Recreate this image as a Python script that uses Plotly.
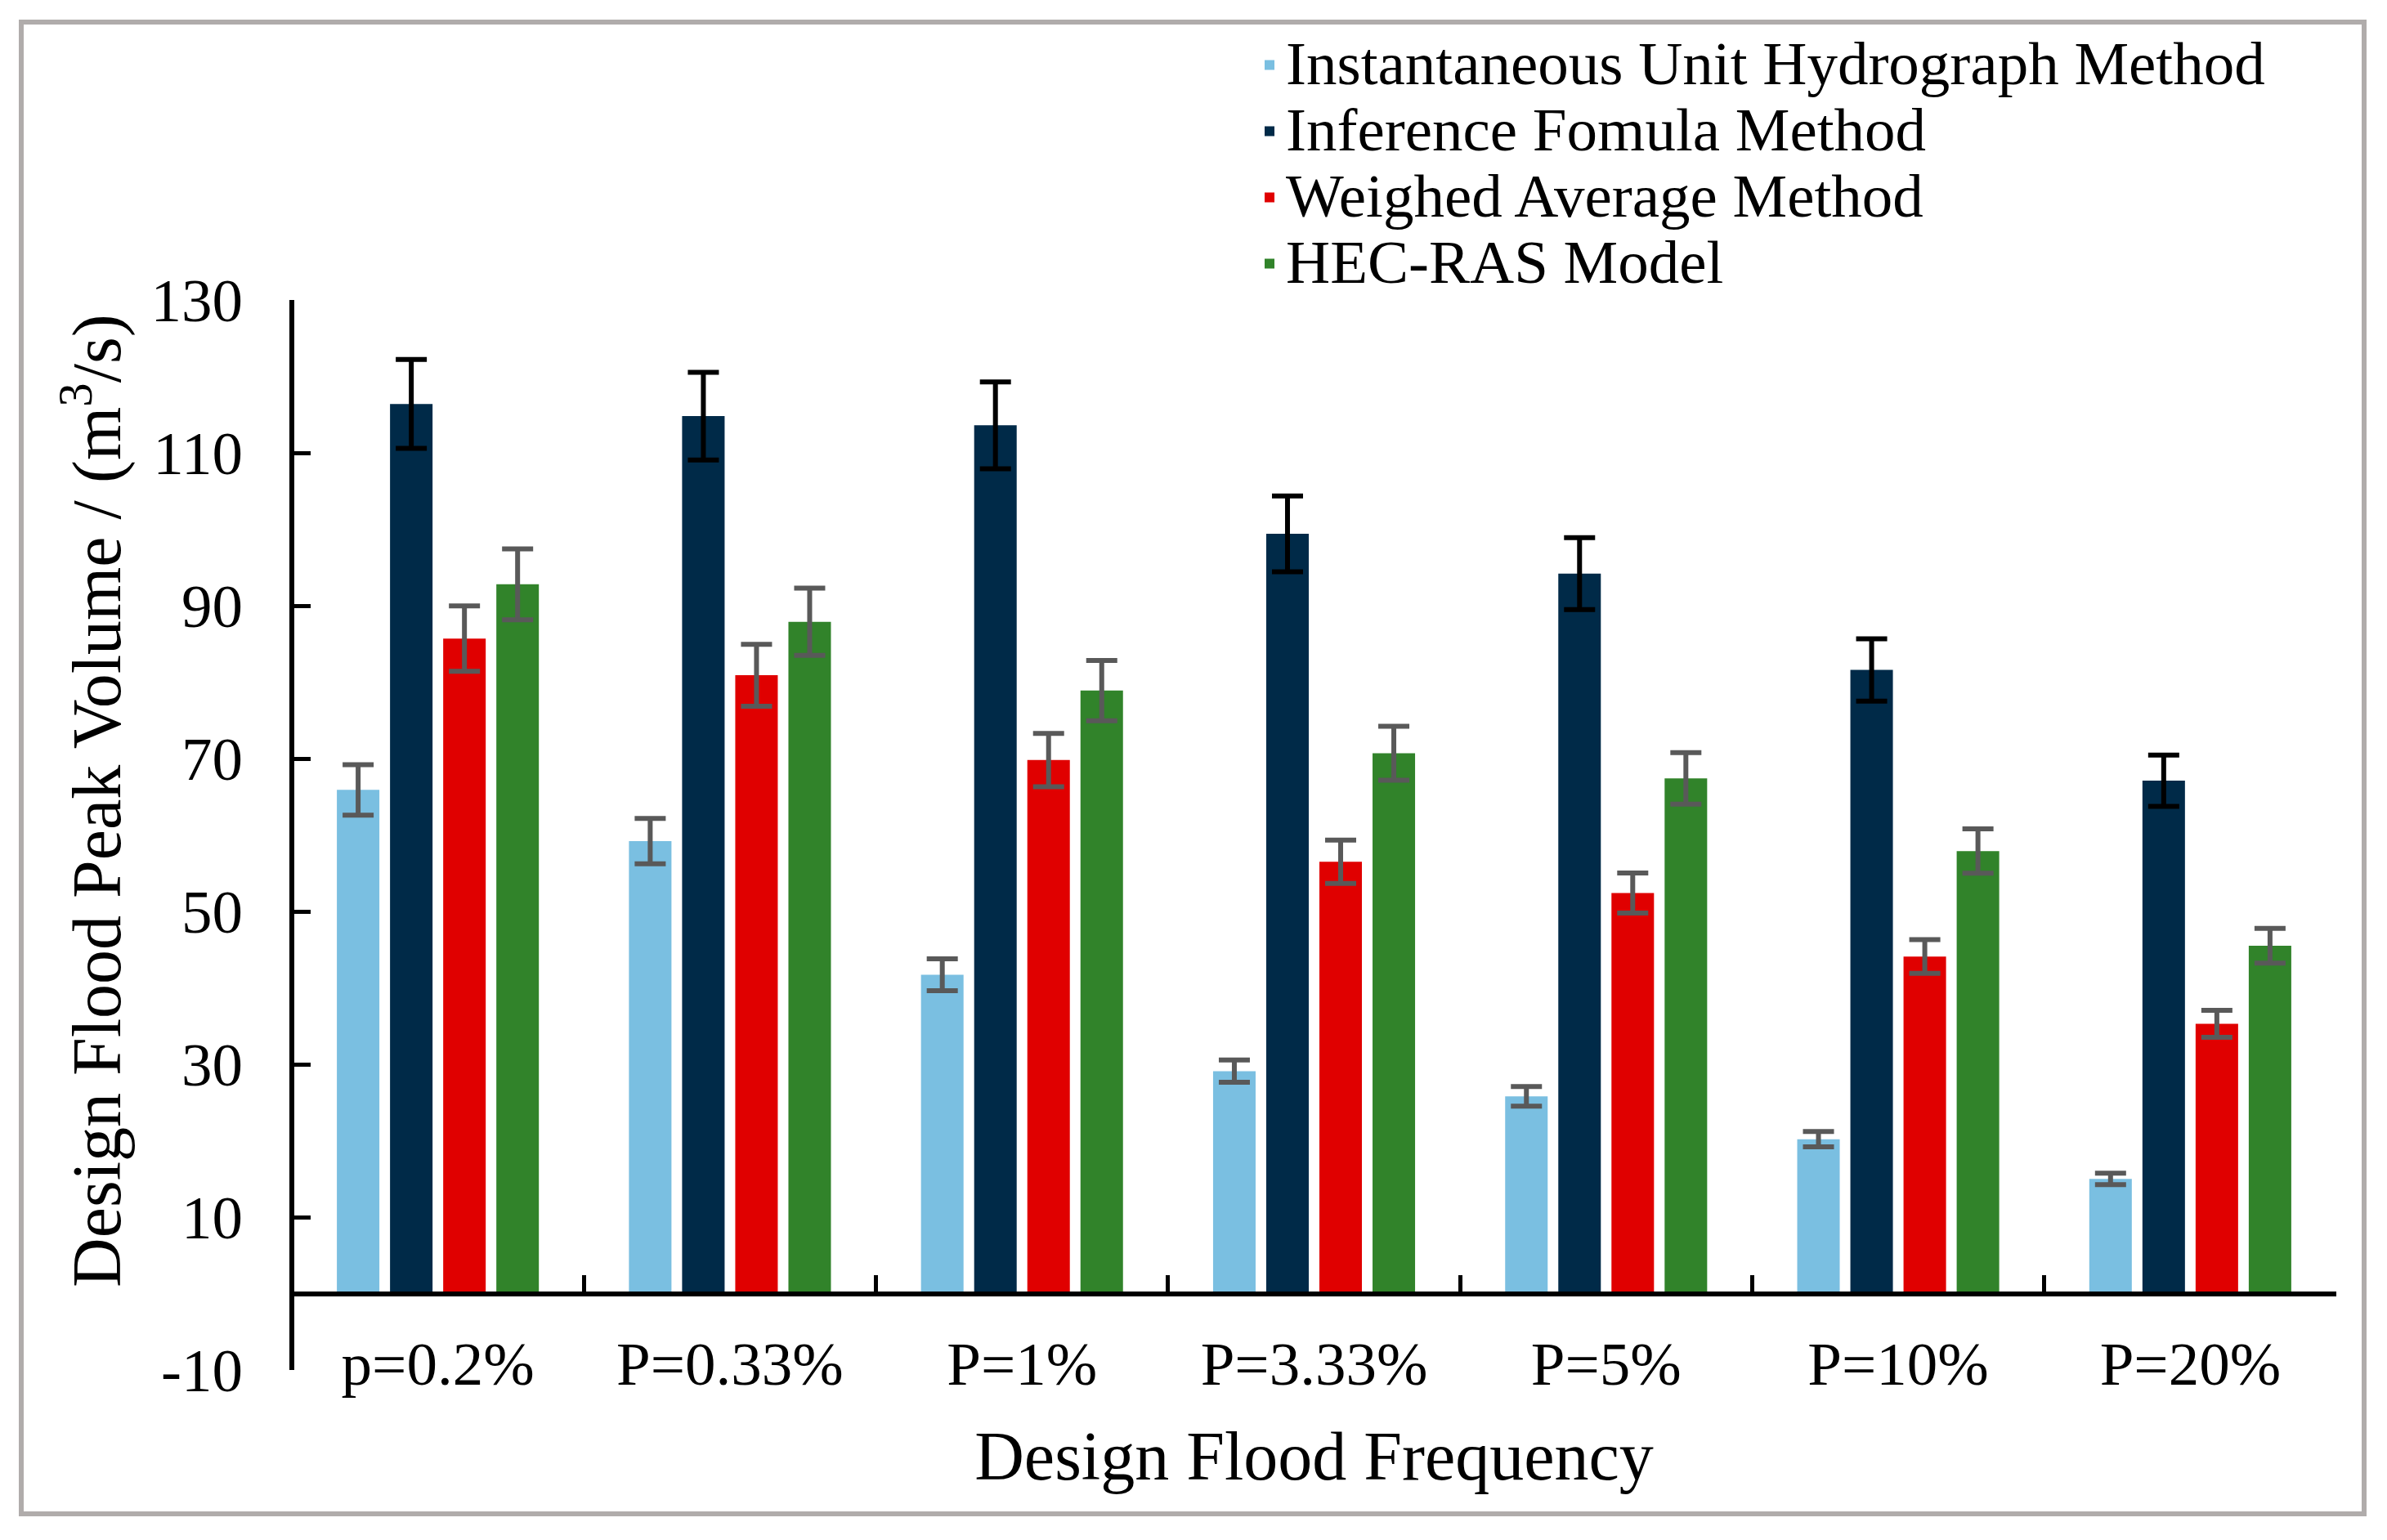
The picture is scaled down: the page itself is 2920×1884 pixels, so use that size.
import plotly.graph_objects as go

# frequency groups on the x axis
categories = ["p=0.2%", "P=0.33%", "P=1%", "P=3.33%", "P=5%", "P=10%", "P=20%"]

# design flood peak volume (m3/s) per method
iuh_values = [65.9, 59.2, 41.7, 29.1, 25.8, 20.2, 15.0]
ifm_values = [116.4, 114.8, 113.6, 99.4, 94.2, 81.6, 67.1]
wam_values = [85.7, 80.9, 69.8, 56.5, 52.4, 44.1, 35.3]
hec_values = [92.8, 87.9, 78.9, 70.7, 67.4, 57.9, 45.5]

series_names = [
    "Instantaneous Unit Hydrograph Method",
    "Inference Fomula Method",
    "Weighed Average Method",
    "HEC-RAS Model",
]

# error bars are 5 % of each value
error_percent = 5

y_ticks = [-10, 10, 30, 50, 70, 90, 110, 130]
y_tick_text = ["-10", "10", "30", "50", "70", "90", "110", "130"]

FONT = "Liberation Serif"
PAGE_W, PAGE_H = 2920, 1884
BODY_MARGIN = 8  # browser default margin around the plot div
WIDTH, HEIGHT = PAGE_W - 2 * BODY_MARGIN, PAGE_H - 2 * BODY_MARGIN

# plot area edges in page pixels
PLOT_LEFT, PLOT_RIGHT, PLOT_TOP, PLOT_BOTTOM = 357, 2858, 367, 1676
MARGIN = dict(
    l=PLOT_LEFT - BODY_MARGIN,
    r=WIDTH - (PLOT_RIGHT - BODY_MARGIN),
    t=PLOT_TOP - BODY_MARGIN,
    b=HEIGHT - (PLOT_BOTTOM - BODY_MARGIN),
)

# legend rows are packed tighter than plotly's default line height,
# so the row height comes from a smaller legend font and the names
# are drawn bigger inside it
LEGEND_ROW_FONT = 60
LEGEND_TEXT_FONT = 75


def px_to_paper(x_px, y_px):
    """Turns page pixels into paper coordinates of the plot area."""
    return ((x_px - PLOT_LEFT) / (PLOT_RIGHT - PLOT_LEFT),
            (PLOT_BOTTOM - y_px) / (PLOT_BOTTOM - PLOT_TOP))


def make_bar(name, values, color, err_color):
    return go.Bar(
        name=f'<span style="font-size:{LEGEND_TEXT_FONT}px">{name}</span>',
        x=categories,
        y=values,
        marker=dict(color=color, line=dict(width=0)),
        error_y=dict(
            type="percent",
            value=error_percent,
            color=err_color,
            thickness=6,
            width=19,
        ),
    )


def main():
    fig = go.Figure()
    fig.add_trace(make_bar(series_names[0], iuh_values, "#7ABFE1", "#595959"))
    fig.add_trace(make_bar(series_names[1], ifm_values, "#002A48", "#000000"))
    fig.add_trace(make_bar(series_names[2], wam_values, "#E00000", "#595959"))
    fig.add_trace(make_bar(series_names[3], hec_values, "#31832A", "#595959"))

    # invisible helper so the label axis at the bottom gets drawn
    fig.add_trace(go.Scatter(
        x=categories, y=[0] * len(categories), xaxis="x2",
        mode="markers", marker=dict(opacity=0),
        hoverinfo="skip", showlegend=False,
    ))

    y_min, y_max = y_ticks[0], y_ticks[-1]
    zero_pos = (0 - y_min) / (y_max - y_min)

    fx0, fy1 = px_to_paper(26, 27)
    fx1, fy0 = px_to_paper(2892, 1852)
    leg_x, leg_y = px_to_paper(1533, 34)
    ytitle_x, ytitle_y = px_to_paper(113, 980)

    fig.update_layout(
        width=WIDTH,
        height=HEIGHT,
        margin=MARGIN,
        paper_bgcolor="white",
        plot_bgcolor="white",
        font=dict(family=FONT, size=75, color="black"),
        barmode="group",
        bargap=0.272,
        bargroupgap=0.2,
        showlegend=True,
        legend=dict(
            x=leg_x, y=leg_y, xanchor="left", yanchor="top",
            font=dict(family=FONT, size=LEGEND_ROW_FONT),
            bgcolor="rgba(0,0,0,0)",
            traceorder="normal",
        ),
        # category axis drawn on the zero line, ticks between groups
        xaxis=dict(
            type="category",
            range=[-0.5, len(categories) - 0.5],
            anchor="free",
            position=zero_pos,
            showline=True, linecolor="black", linewidth=6,
            ticks="inside", tickson="boundaries", ticklen=20, tickwidth=5,
            tickcolor="black",
            showticklabels=False,
            showgrid=False, zeroline=False,
            layer="above traces",
        ),
        # labels sit at the bottom of the plot
        xaxis2=dict(
            type="category",
            overlaying="x",
            anchor="y",
            range=[-0.5, len(categories) - 0.5],
            ticks="",
            ticklabelstandoff=-58,
            tickfont=dict(family=FONT, size=75),
            showline=False, showgrid=False, zeroline=False,
            title=dict(text="Design Flood Frequency",
                       font=dict(family=FONT, size=84), standoff=42),
        ),
        yaxis=dict(
            range=[y_min, y_max],
            tickmode="array",
            tickvals=y_ticks,
            ticktext=y_tick_text,
            anchor="free", position=0,
            showline=True, linecolor="black", linewidth=6,
            ticks="inside", ticklen=20, tickwidth=5, tickcolor="black",
            ticklabelstandoff=42,
            tickfont=dict(family=FONT, size=75),
            showgrid=False, zeroline=False,
        ),
        annotations=[
            dict(text="Design Flood Peak Volume / (m<sup>3</sup>/s)",
                 xref="paper", yref="paper", x=ytitle_x, y=ytitle_y,
                 xanchor="center", yanchor="middle", textangle=-90,
                 showarrow=False, font=dict(family=FONT, size=84)),
        ],
        shapes=[
            dict(type="rect", xref="paper", yref="paper",
                 x0=fx0, x1=fx1, y0=fy0, y1=fy1,
                 line=dict(color="#B0ACAB", width=6), layer="below"),
        ],
    )

    fig.write_html("out.html")


if __name__ == "__main__":
    main()
